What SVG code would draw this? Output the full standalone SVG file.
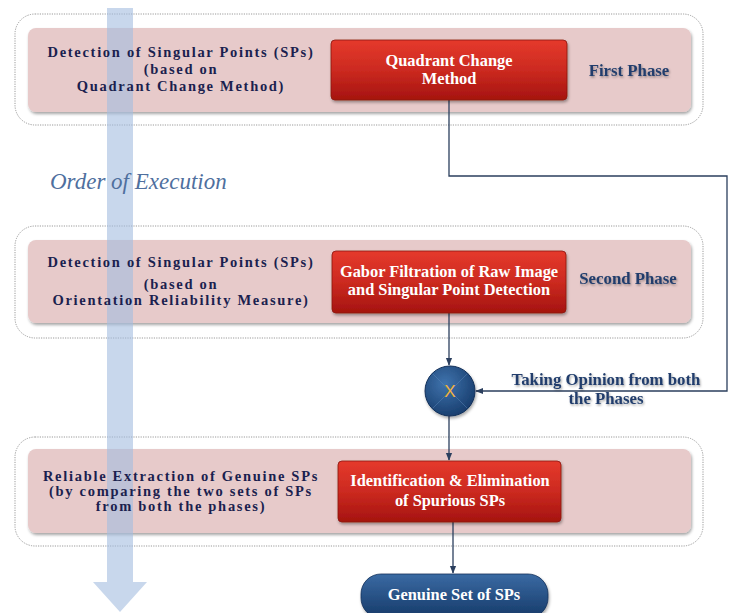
<svg xmlns="http://www.w3.org/2000/svg" width="732" height="613" viewBox="0 0 732 613">
<defs>
<linearGradient id="red" x1="0" y1="0" x2="0" y2="1">
<stop offset="0" stop-color="#e5392c"/><stop offset="0.5" stop-color="#cc2a20"/><stop offset="1" stop-color="#a5130f"/>
</linearGradient>
<linearGradient id="blue" x1="0" y1="0" x2="0" y2="1">
<stop offset="0" stop-color="#3a6aa3"/><stop offset="1" stop-color="#163a69"/>
</linearGradient>
<radialGradient id="ball" cx="0.4" cy="0.35" r="0.7">
<stop offset="0" stop-color="#3f73ad"/><stop offset="1" stop-color="#173c6c"/>
</radialGradient>
<filter id="sh" x="-10%" y="-20%" width="120%" height="150%">
<feDropShadow dx="1" dy="2" stdDeviation="1.5" flood-color="#000" flood-opacity="0.35"/>
</filter>
<filter id="tsh" x="-10%" y="-30%" width="120%" height="160%">
<feDropShadow dx="1" dy="1.5" stdDeviation="1.2" flood-color="#000" flood-opacity="0.35"/>
</filter>
<marker id="arr" viewBox="0 0 10 10" refX="9" refY="5" markerWidth="6" markerHeight="6" orient="auto">
<path d="M0,1 L10,5 L0,9 z" fill="#2b3f5e"/>
</marker>
</defs>
<style>
.outer{fill:#fff;stroke:#9a9a9a;stroke-width:1;stroke-dasharray:1.2 1.2}
.panel{fill:#e7caca;filter:url(#sh)}
.rbox{fill:url(#red);stroke:#8a1410;stroke-width:0.8;filter:url(#sh)}
.ltxt{font-family:"Liberation Serif",serif;font-weight:bold;font-size:14.5px;letter-spacing:1.7px;fill:#1b1f4f;text-anchor:middle}
.wtxt{font-family:"Liberation Serif",serif;font-weight:bold;font-size:16.4px;fill:#fff;text-anchor:middle}
.ptxt{font-family:"Liberation Serif",serif;font-weight:bold;font-size:16.8px;fill:#203d6c;text-anchor:middle;filter:url(#tsh)}
.conn{fill:none;stroke:#2b3f5e;stroke-width:1.3}
</style>
<rect width="732" height="613" fill="#fff"/>
<g id="phase1">
<rect class="outer" x="15" y="14" width="688" height="111" rx="20"/>
<rect class="panel" x="28" y="28" width="663" height="84" rx="8"/>
</g>
<g id="phase2">
<rect class="outer" x="15" y="226" width="688" height="112" rx="20"/>
<rect class="panel" x="28" y="240" width="663" height="83" rx="8"/>
</g>
<g id="phase3">
<rect class="outer" x="15" y="437" width="688" height="109" rx="20"/>
<rect class="panel" x="28" y="449" width="663" height="84" rx="8"/>
</g>
<g id="order-arrow" opacity="0.6">
<path d="M107,8 H133 V582 H147 L120,612 L93,582 H107 Z" fill="#a3bde0"/>
</g>
<text x="50" y="189" font-family="'Liberation Serif',serif" font-style="italic" font-size="23" fill="#4f6f9e">Order of Execution</text>
<g id="desc1">
<text class="ltxt" x="181" y="57">Detection of Singular Points (SPs)</text>
<text class="ltxt" x="181" y="74">(based on</text>
<text class="ltxt" x="181" y="91">Quadrant Change Method)</text>
</g>
<g id="desc2">
<text class="ltxt" x="181" y="267">Detection of Singular Points (SPs)</text>
<text class="ltxt" x="181" y="289">(based on</text>
<text class="ltxt" x="181" y="305">Orientation Reliability Measure)</text>
</g>
<g id="desc3">
<text class="ltxt" x="181" y="481">Reliable Extraction of Genuine SPs</text>
<text class="ltxt" x="181" y="496">(by comparing the two sets of SPs</text>
<text class="ltxt" x="181" y="511">from both the phases)</text>
</g>
<g id="connectors">
<path class="conn" d="M449,100 V176 H727 V391 H476" marker-end="url(#arr)"/>
<path class="conn" d="M449,313 V365" marker-end="url(#arr)"/>
<path class="conn" d="M449,416 V460" marker-end="url(#arr)"/>
<path class="conn" d="M453,522 V573" marker-end="url(#arr)"/>
</g>
<g id="quadrant">
<rect class="rbox" x="331" y="40" width="236" height="60" rx="4"/>
<text class="wtxt" x="449" y="66">Quadrant Change</text>
<text class="wtxt" x="449" y="84">Method</text>
</g>
<text class="ptxt" x="629" y="76">First Phase</text>
<g id="gabor">
<rect class="rbox" x="332" y="251" width="234" height="62" rx="4"/>
<text class="wtxt" x="449" y="277">Gabor Filtration of Raw Image</text>
<text class="wtxt" x="449" y="295">and Singular Point Detection</text>
</g>
<text class="ptxt" x="628" y="284">Second Phase</text>
<g id="combine">
<circle cx="450" cy="391" r="25" fill="url(#ball)" stroke="#12305a" stroke-width="1" filter="url(#sh)"/>
<path d="M433,374 L467,408 M467,374 L433,408" stroke="#5a86b8" stroke-width="0.8" opacity="0.6"/>
<text x="450" y="397" font-family="'Liberation Sans',sans-serif" font-size="17" fill="#f2b23a" text-anchor="middle">X</text>
</g>
<g id="opinion-label">
<text class="ptxt" x="606" y="385">Taking Opinion from both</text>
<text class="ptxt" x="606" y="404">the Phases</text>
</g>
<g id="identify">
<rect class="rbox" x="338" y="461" width="223" height="61" rx="4"/>
<text class="wtxt" x="450" y="486">Identification &amp; Elimination</text>
<text class="wtxt" x="450" y="506">of Spurious SPs</text>
</g>
<g id="genuine">
<rect x="361" y="574" width="187" height="44" rx="20" fill="url(#blue)" stroke="#12305a" stroke-width="0.8" filter="url(#sh)"/>
<text class="wtxt" x="454" y="600">Genuine Set of SPs</text>
</g>
</svg>
